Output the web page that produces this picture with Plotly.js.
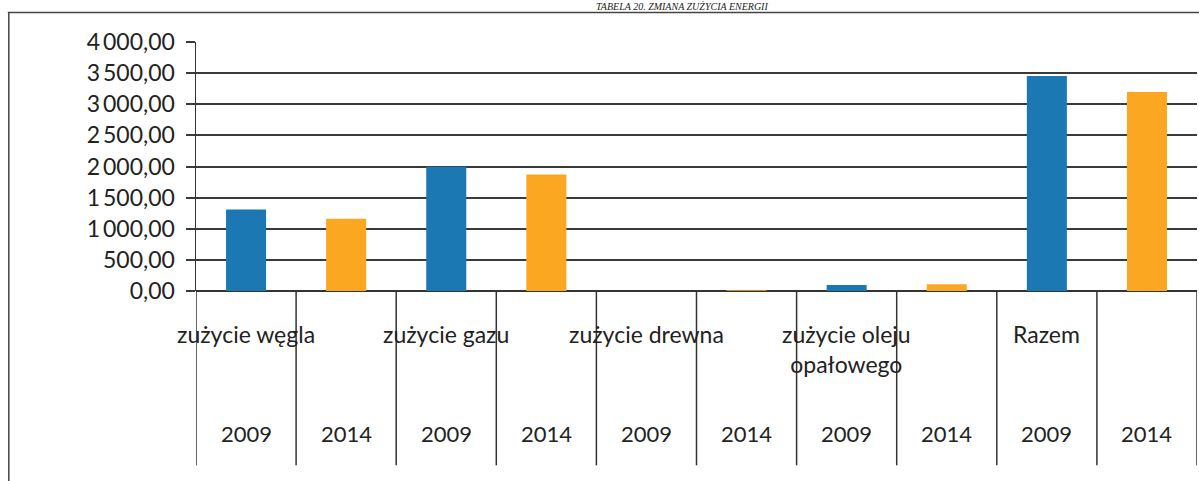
<!DOCTYPE html>
<html>
<head>
<meta charset="utf-8">
<script src="https://cdn.plot.ly/plotly-3.0.1.min.js"></script>
<style>
html,body{margin:0;padding:0;background:#fff;}
#chart{width:1199px;height:481px;}
</style>
</head>
<body>
<div id="chart"></div>
<script>
const chartTitle = "TABELA 20. ZMIANA ZUŻYCIA ENERGII";
const groups = ["zużycie węgla", "zużycie gazu", "zużycie drewna", "zużycie oleju<br>opałowego", "Razem"];
const years = ["2009", "2014"];
const values2009 = [1310, 1995, 2, 95, 3455];
const values2014 = [1160, 1870, 12, 110, 3195];
const yTicks = [0, 500, 1000, 1500, 2000, 2500, 3000, 3500, 4000];

function fmt(v) {
  const s = v.toFixed(2).replace(".", ",");
  const parts = s.split(",");
  const intPart = parts[0].replace(/\B(?=(\d{3})+(?!\d))/g, "\u2009");
  return intPart + "," + parts[1];
}

const nCat = groups.length * years.length;
const x2009 = groups.map((g, i) => i * 2);
const x2014 = groups.map((g, i) => i * 2 + 1);

const font = "Lato, 'Open Sans', sans-serif";

const traces = [
  {type: "bar", x: x2009, y: values2009, name: years[0],
   marker: {color: "#1b78b2"}, hoverinfo: "y"},
  {type: "bar", x: x2014, y: values2014, name: years[1],
   marker: {color: "#fca722"}, hoverinfo: "y"}
];

const shapes = [];
for (let i = 0; i <= nCat; i++) {
  shapes.push({type: "line", xref: "x", yref: "paper", x0: i - 0.5, x1: i - 0.5,
    y0: 0, y1: -0.70, line: {color: "#333", width: 1.5}});
}
// outer frame (top and left)
shapes.push({type: "line", xref: "paper", yref: "paper", x0: -0.188, x1: 1.01,
  y0: 1.118, y1: 1.118, line: {color: "#444", width: 1.5}});
shapes.push({type: "line", xref: "paper", yref: "paper", x0: -0.187, x1: -0.187,
  y0: 1.118, y1: -0.8, line: {color: "#444", width: 1.5}});

const annotations = [];
groups.forEach((g, i) => {
  annotations.push({xref: "x", yref: "paper", x: i * 2, y: -0.11, yanchor: "top",
    text: g, showarrow: false, font: {family: font, size: 23, color: "#222"}, align: "center"});
  years.forEach((yr, j) => {
    annotations.push({xref: "x", yref: "paper", x: i * 2 + j, y: -0.51, yanchor: "top",
      text: yr, showarrow: false, font: {family: font, size: 22, color: "#222"}});
  });
});
annotations.push({xref: "paper", yref: "paper", x: 0.486, y: 1.141, yanchor: "middle",
  text: "<i>" + chartTitle + "</i>", showarrow: false,
  font: {family: "'Liberation Serif', serif", size: 10, color: "#222"}});

const layout = {
  width: 1199, height: 481,
  margin: {l: 196, r: 2, t: 42, b: 190},
  paper_bgcolor: "#fff", plot_bgcolor: "#fff",
  showlegend: false,
  bargap: 0.6,
  xaxis: {type: "linear", range: [-0.5, nCat - 0.5], showticklabels: false,
    showgrid: false, zeroline: false, showline: false, ticks: ""},
  yaxis: {range: [0, 4000], tickvals: yTicks, ticktext: yTicks.map(fmt),
    showgrid: true, gridcolor: "#3a3a3a", gridwidth: 2,
    showline: true, linecolor: "#333", linewidth: 1.5,
    ticks: "outside", ticklen: 9, tickcolor: "#3a3a3a", tickwidth: 2,
    zeroline: true, zerolinecolor: "#333", zerolinewidth: 2,
    tickfont: {family: font, size: 23, color: "#222"}, ticklabelstandoff: 6},
  shapes: shapes,
  annotations: annotations
};

Plotly.newPlot("chart", traces, layout, {displayModeBar: false, staticPlot: true});
</script>
</body>
</html>
